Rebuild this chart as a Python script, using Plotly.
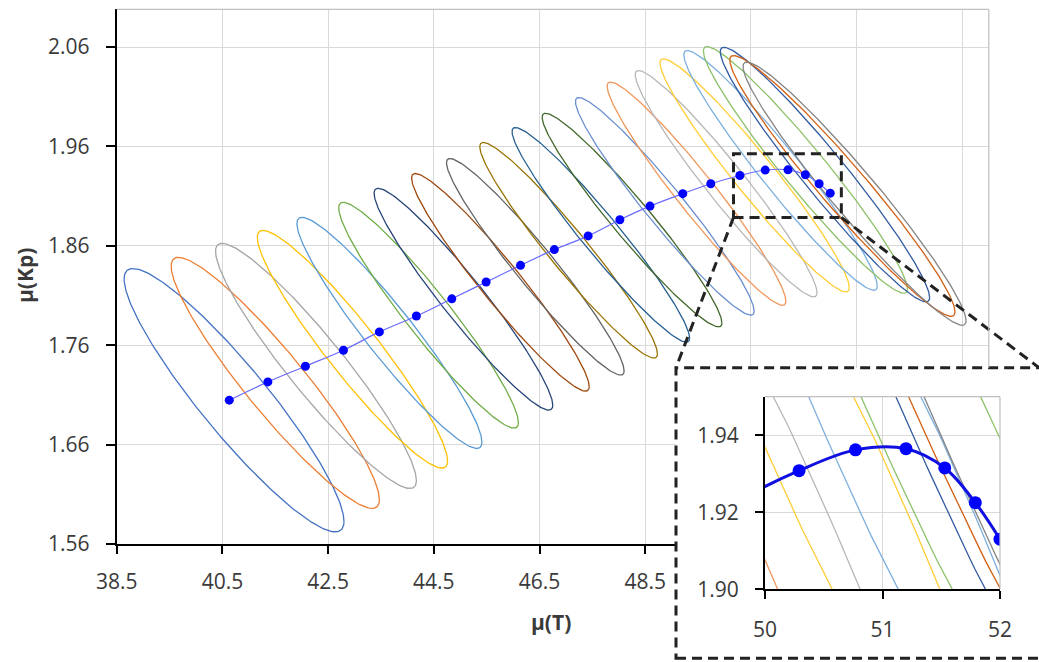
import numpy as np
import plotly.graph_objects as go

W, H = 1039, 662

# ---- point series (blue dots) ----
mu_T = [40.63, 41.36, 42.07, 42.79, 43.47, 44.17, 44.84, 45.49, 46.14, 46.78, 47.42,
        48.02, 48.59, 49.21, 49.74, 50.29, 50.77, 51.20, 51.53, 51.79, 52.00]
mu_Kp = [1.7047, 1.7231, 1.7389, 1.7550, 1.7734, 1.7894, 1.8067, 1.8236, 1.8404, 1.8562, 1.8700,
         1.8863, 1.9000, 1.9125, 1.9225, 1.9308, 1.9362, 1.9365, 1.9315, 1.9225, 1.9130]

# ---- ellipses (centre, half-extent in T, half-extent in Kp, correlation) ----
ell_T = [40.72, 41.50, 42.27, 42.96, 43.66, 44.40, 45.06, 45.76, 46.42, 47.05, 47.66,
         48.25, 48.87, 49.47, 50.03, 50.57, 51.06, 51.53, 51.90, 52.23, 52.46]
ell_Kp = [1.7047, 1.7221, 1.7392, 1.7560, 1.7724, 1.7902, 1.8063, 1.8233, 1.8389, 1.8555, 1.8711,
          1.8859, 1.8997, 1.9125, 1.9225, 1.9309, 1.9359, 1.9364, 1.9317, 1.9203, 1.9125]
ell_half_T = [2.08, 1.97, 1.90, 1.80, 1.75, 1.70, 1.69, 1.68, 1.68, 1.68, 1.68,
              1.70, 1.69, 1.69, 1.72, 1.79, 1.83, 1.93, 1.98, 2.13, 2.11]
ell_half_Kp = [0.1325, 0.1263, 0.1233, 0.1196, 0.1163, 0.1136, 0.1116, 0.1095, 0.1090, 0.1085, 0.1080,
               0.1075, 0.1095, 0.1123, 0.1139, 0.1173, 0.1206, 0.1241, 0.1281, 0.1312, 0.1324]
ell_rho = [-0.92, -0.93, -0.935, -0.94, -0.945, -0.95, -0.955, -0.958, -0.96, -0.96, -0.962,
           -0.962, -0.962, -0.962, -0.963, -0.963, -0.964, -0.964, -0.965, -0.965, -0.965]
ell_colors = ["#4472C4", "#ED7D31", "#A5A5A5", "#FFC000", "#5B9BD5", "#70AD47",
              "#264478", "#9E480E", "#636363", "#997300", "#255E91", "#43682B",
              "#698ED0", "#F1975A", "#B7B7B7", "#FFCD33", "#7CAFDD", "#8CC168",
              "#335BA1", "#D25F12", "#848484"]

# ---- axes settings ----
main_x_range = [38.5, 55.0]
main_y_range = [1.56, 2.098]
main_x_ticks = [38.5, 40.5, 42.5, 44.5, 46.5, 48.5, 50.5, 52.5, 54.5]
main_y_ticks = [1.56, 1.66, 1.76, 1.86, 1.96, 2.06]
inset_x_range = [50, 52]
inset_y_range = [1.90, 1.95]
inset_x_ticks = [50, 51, 52]
inset_y_ticks = [1.90, 1.92, 1.94]
zoom_box_T = [50.17, 52.21]
zoom_box_Kp = [1.8886, 1.9527]

# domains (paper fractions)
mx_dom = [116.7 / W, 988.8 / W]
my_dom = [1 - 544.0 / H, 1 - 9.3 / H]
box_dom_x = [676.0 / W, 1.0]
box_dom_y = [1 - 658.3 / H, 1 - 367.7 / H]
ix_dom = [765.0 / W, 1000.0 / W]
iy_dom = [1 - 589.3 / H, 1 - 396.7 / H]

FONT = "Open Sans"
TXT = "#3a3a3a"
GRID = "#D9D9D9"
FS = 21


def to_paper(v, dom, rng):
    return dom[0] + (v - rng[0]) / (rng[1] - rng[0]) * (dom[1] - dom[0])


fig = go.Figure()

t = np.linspace(0, 2 * np.pi, 240)


def ellipse(cx, cy, hx, hy, r):
    x = cx + hx * np.cos(t)
    y = cy + hy * (r * np.cos(t) + np.sqrt(1 - r * r) * np.sin(t))
    return x, y


for axes in (("x", "y"), ("x3", "y3")):
    for i in range(len(ell_T)):
        ex, ey = ellipse(ell_T[i], ell_Kp[i], ell_half_T[i], ell_half_Kp[i], ell_rho[i])
        fig.add_trace(go.Scatter(x=ex, y=ey, mode="lines",
                                 line=dict(color=ell_colors[i], width=1.3),
                                 xaxis=axes[0], yaxis=axes[1], hoverinfo="skip",
                                 showlegend=False))
    if axes[0] == "x":
        fig.add_trace(go.Scatter(x=mu_T, y=mu_Kp, mode="lines+markers",
                                 line=dict(color="#6B6BFF", width=1.2, shape="spline"),
                                 marker=dict(color="#0000FF", size=9),
                                 xaxis="x", yaxis="y", showlegend=False))
        # white panel behind the inset
        fig.add_trace(go.Scatter(x=[0, 1, 1, 0, 0], y=[0, 0, 1, 1, 0], mode="lines",
                                 fill="toself", fillcolor="white",
                                 line=dict(width=0, color="white"),
                                 xaxis="x2", yaxis="y2", hoverinfo="skip",
                                 showlegend=False))
    else:
        fig.add_trace(go.Scatter(x=mu_T, y=mu_Kp, mode="lines+markers",
                                 line=dict(color="#1010E0", width=3, shape="spline"),
                                 marker=dict(color="#0000FF", size=13),
                                 xaxis="x3", yaxis="y3", showlegend=False))

axis_common = dict(showgrid=True, gridcolor=GRID, gridwidth=1, zeroline=False,
                   showline=True, linecolor="black", linewidth=2, automargin=False,
                   ticks="outside", tickcolor="black", tickwidth=1.5,
                   tickfont=dict(family=FONT, size=FS, color=TXT))

# labels of the main x ticks hidden behind the inset panel stay empty
main_x_text = [f"{v:.1f}" if to_paper(v, mx_dom, main_x_range) < box_dom_x[0] else ""
               for v in main_x_ticks]

fig.update_layout(
    template="none",
    width=W, height=H,
    margin=dict(l=0, r=0, t=0, b=0, pad=0, autoexpand=False),
    paper_bgcolor="white", plot_bgcolor="rgba(0,0,0,0)",
    showlegend=False,
    xaxis=dict(domain=mx_dom, range=main_x_range, anchor="y",
               tickvals=main_x_ticks, ticktext=main_x_text,
               ticklen=8, ticklabelstandoff=10, **axis_common),
    yaxis=dict(domain=my_dom, range=main_y_range, anchor="x",
               tickvals=main_y_ticks, ticktext=[f"{v:.2f}" for v in main_y_ticks],
               ticklen=9, ticklabelstandoff=12, **axis_common),
    xaxis2=dict(domain=box_dom_x, range=[0, 1], anchor="y2", visible=False,
                fixedrange=True, automargin=False),
    yaxis2=dict(domain=box_dom_y, range=[0, 1], anchor="x2", visible=False,
                fixedrange=True, automargin=False),
    xaxis3=dict(domain=ix_dom, range=inset_x_range, anchor="y3",
                tickvals=inset_x_ticks, ticktext=[f"{v:d}" for v in inset_x_ticks],
                ticklen=8, ticklabelstandoff=12, **axis_common),
    yaxis3=dict(domain=iy_dom, range=inset_y_range, anchor="x3",
                tickvals=inset_y_ticks, ticktext=[f"{v:.2f}" for v in inset_y_ticks],
                ticklen=8, ticklabelstandoff=12, **axis_common),
)

dash = dict(color="#222222", width=3, dash="10px,6px")
shapes = []
# zoom rectangle in main plot
shapes.append(dict(type="rect", xref="x", yref="y", x0=zoom_box_T[0], x1=zoom_box_T[1],
                   y0=zoom_box_Kp[0], y1=zoom_box_Kp[1], line=dash, layer="above"))
# connectors
bl_x = to_paper(zoom_box_T[0], mx_dom, main_x_range)
br_x = to_paper(zoom_box_T[1], mx_dom, main_x_range)
b_y = to_paper(zoom_box_Kp[0], my_dom, main_y_range)
shapes.append(dict(type="line", xref="paper", yref="paper", x0=bl_x, y0=b_y,
                   x1=box_dom_x[0], y1=box_dom_y[1], line=dash, layer="above"))
shapes.append(dict(type="line", xref="paper", yref="paper", x0=br_x, y0=b_y,
                   x1=1.0, y1=box_dom_y[1], line=dash, layer="above"))
# inset frame (dashed)
shapes.append(dict(type="rect", xref="paper", yref="paper", x0=box_dom_x[0], x1=1.02,
                   y0=box_dom_y[0], y1=box_dom_y[1], line=dash, layer="above"))
# light borders (top / right) of main plot and inset
border = dict(color="#BFBFBF", width=1.2)
shapes.append(dict(type="line", xref="paper", yref="paper", x0=mx_dom[0], x1=mx_dom[1],
                   y0=my_dom[1], y1=my_dom[1], line=border, layer="above"))
shapes.append(dict(type="line", xref="paper", yref="paper", x0=mx_dom[1], x1=mx_dom[1],
                   y0=box_dom_y[1], y1=my_dom[1], line=border, layer="above"))
shapes.append(dict(type="line", xref="paper", yref="paper", x0=ix_dom[0], x1=ix_dom[1],
                   y0=iy_dom[1], y1=iy_dom[1], line=border, layer="above"))
shapes.append(dict(type="line", xref="paper", yref="paper", x0=ix_dom[1], x1=ix_dom[1],
                   y0=iy_dom[0], y1=iy_dom[1], line=border, layer="above"))
fig.update_layout(shapes=shapes)

fig.update_layout(annotations=[
    dict(text="<b>μ(T)</b>", xref="paper", yref="paper", x=551 / W, y=1 - 622 / H,
         showarrow=False, font=dict(family=FONT, size=FS, color=TXT),
         xanchor="center", yanchor="middle"),
    dict(text="<b>μ(Kp)</b>", xref="paper", yref="paper", x=25 / W, y=1 - 276 / H,
         showarrow=False, textangle=-90, font=dict(family=FONT, size=FS, color=TXT),
         xanchor="center", yanchor="middle"),
])

fig.write_html("out.html")
